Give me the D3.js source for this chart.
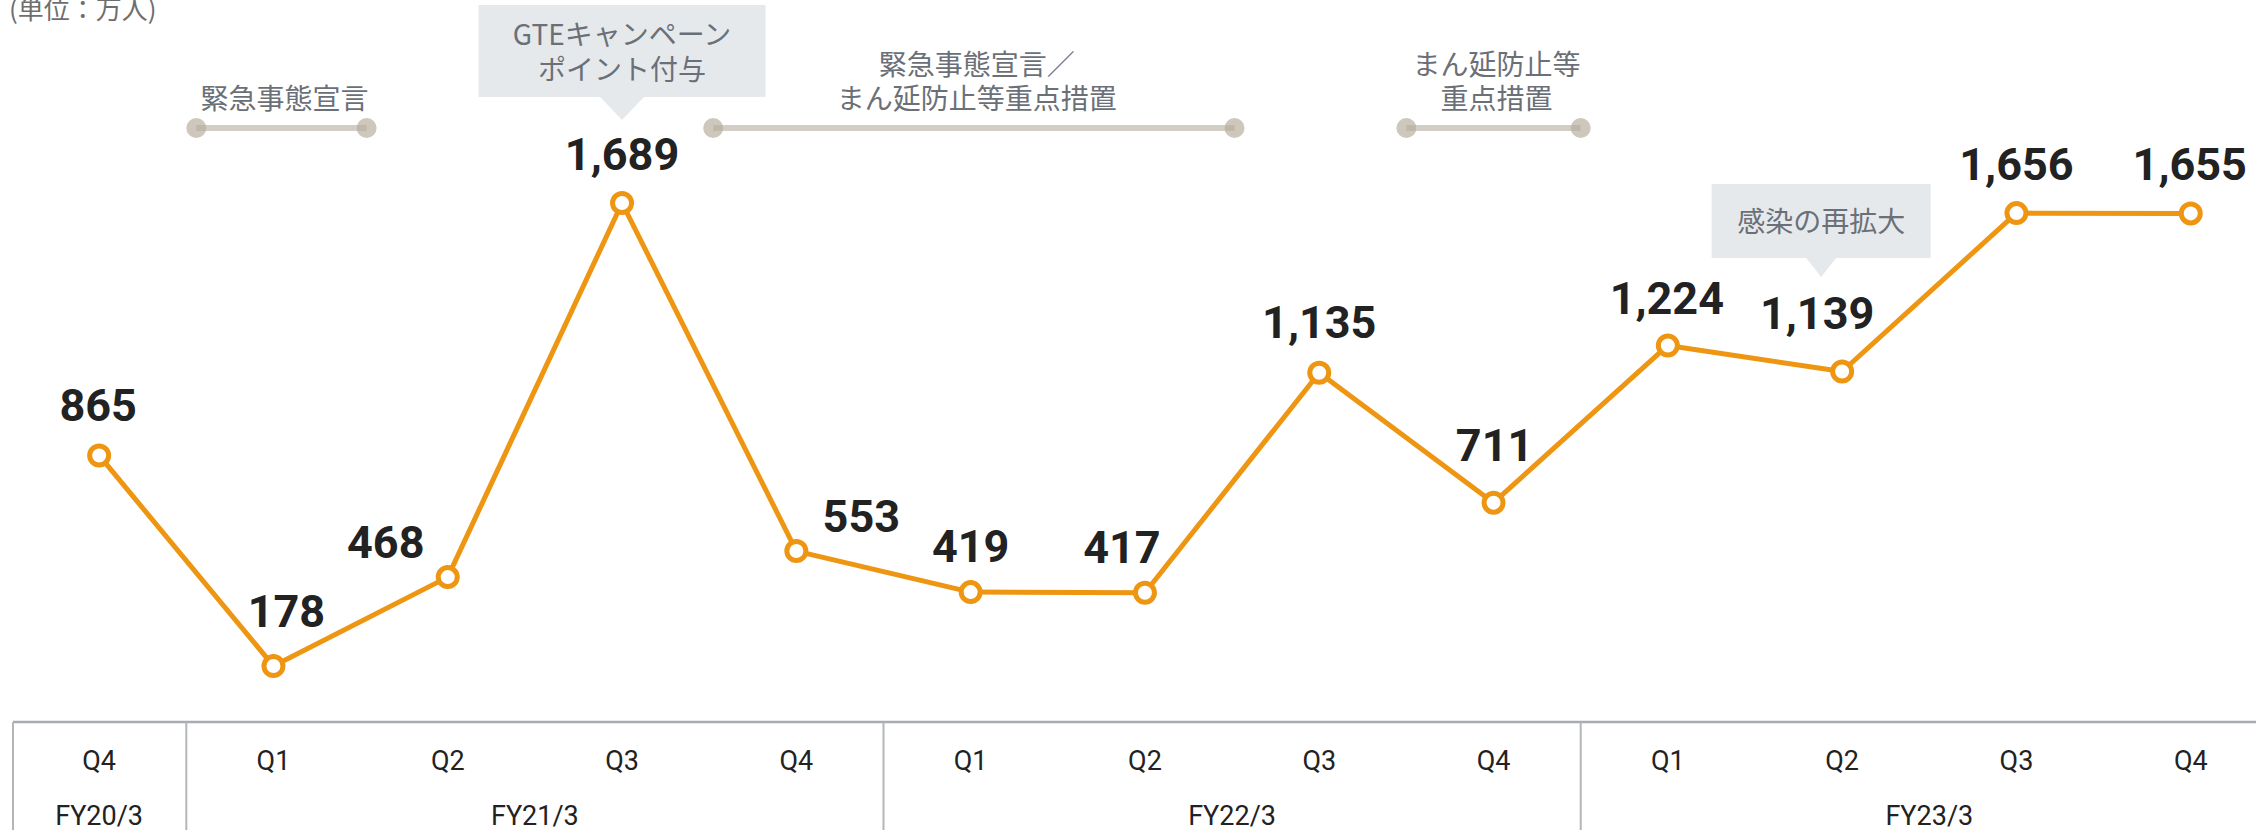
<!DOCTYPE html>
<html lang="ja">
<head>
<meta charset="utf-8">
<title>Quarterly visitors</title>
<script src="https://cdn.jsdelivr.net/npm/d3@7"></script>
<style>
  body { margin: 0; background: #fff; }
  svg { display: block; }
  text { font-family: Roboto, "Noto Sans CJK JP", sans-serif; }
  .jp { font-family: "Noto Sans CJK JP", sans-serif; }
</style>
</head>
<body>
<div id="chart"></div>
<script>
// values in 万人, one per quarter
const quarters = ["Q4", "Q1", "Q2", "Q3", "Q4", "Q1", "Q2", "Q3", "Q4", "Q1", "Q2", "Q3", "Q4"];
const fiscalYears = ["FY20/3", "FY21/3", "FY21/3", "FY21/3", "FY21/3", "FY22/3", "FY22/3", "FY22/3", "FY22/3",
    "FY23/3", "FY23/3", "FY23/3", "FY23/3"];
const visitors = [865, 178, 468, 1689, 553, 419, 417, 1135, 711, 1224, 1139, 1656, 1655];
const unitLabel = "(単位：万人)";

// restriction periods, first / last quarter index
const periodLabels = [["緊急事態宣言"], ["緊急事態宣言／", "まん延防止等重点措置"], ["まん延防止等", "重点措置"]];
const periodStart = [1, 4, 8];
const periodEnd = [1, 6, 8];

// callouts pointing at a quarter
const calloutLabels = [["GTEキャンペーン", "ポイント付与"], ["感染の再拡大"]];
const calloutAt = [3, 10];

// hand placement of value labels: [dx, baseline offset from point]
const labelNudge = [[-1, -34], [13, -39], [-62, -19], [0, -33], [65, -19], [0, -30], [-23, -30],
    [0, -35], [1, -42], [-1, -31], [-25, -43], [0, -33], [-1, -33]];
const periodShift = [10, 4, 0];
const calloutBox = [
    { dx: 0, top: 5, w: 287, h: 92, tipW: 44, tipH: 23 },
    { dx: -21, top: 184, w: 219, h: 74, tipW: 30, tipH: 19 }
];

const width = 2256, height = 830;
const orange = "#ee9511";
const annoText = "#6b7078";

const svg = d3.select("#chart").append("svg")
    .attr("width", width)
    .attr("height", height);

const idx = d3.range(visitors.length);

const x = d3.scaleBand()
    .domain(idx)
    .range([12, 12 + 174.3 * idx.length]);
const cx = (i) => x(i) + x.bandwidth() / 2;

const y = d3.scaleLinear()
    .domain([0, 1689])
    .range([720.5, 203]);

// unit label
svg.append("text")
    .attr("class", "jp")
    .attr("x", 9)
    .attr("y", 19)
    .attr("font-size", 26)
    .attr("fill", "#6e6e6e")
    .text(unitLabel);

// restriction periods
const periods = svg.append("g");
periodLabels.forEach((lines, k) => {
    const x1 = x(periodStart[k]) + periodShift[k];
    const x2 = x(periodEnd[k]) + x.bandwidth() + periodShift[k] * 0.6;
    const g = periods.append("g");
    g.selectAll("circle")
        .data([x1, x2])
        .enter()
        .append("circle")
        .attr("cx", (d) => d)
        .attr("cy", 128)
        .attr("r", 10)
        .attr("fill", "#cdc7bc");
    g.append("line")
        .attr("x1", x1).attr("x2", x2)
        .attr("y1", 128).attr("y2", 128)
        .attr("stroke", "rgb(182,173,158)")
        .attr("stroke-opacity", 0.6)
        .attr("stroke-width", 6);
    g.selectAll("text")
        .data(lines)
        .enter()
        .append("text")
        .attr("class", "jp")
        .attr("x", (x1 + x2) / 2 + 3)
        .attr("y", (d, i) => 109 - (lines.length - 1 - i) * 34)
        .attr("text-anchor", "middle")
        .attr("font-size", 28)
        .attr("fill", annoText)
        .text((d) => d);
});

// callouts
calloutLabels.forEach((lines, k) => {
    const b = calloutBox[k];
    const mx = cx(calloutAt[k]) + b.dx;
    const g = svg.append("g");
    g.append("path")
        .attr("d", d3.line()([
            [mx - b.w / 2, b.top], [mx + b.w / 2, b.top], [mx + b.w / 2, b.top + b.h],
            [mx + b.tipW / 2, b.top + b.h], [mx, b.top + b.h + b.tipH], [mx - b.tipW / 2, b.top + b.h],
            [mx - b.w / 2, b.top + b.h]
        ]) + "Z")
        .attr("fill", "#e6e9ec");
    g.selectAll("text")
        .data(lines)
        .enter()
        .append("text")
        .attr("class", "jp")
        .attr("x", mx)
        .attr("y", (d, i) => b.top + b.h / 2 + (i - (lines.length - 1) / 2) * 35 + 11)
        .attr("text-anchor", "middle")
        .attr("font-size", 28)
        .attr("fill", annoText)
        .text((d) => d);
});

// table under the chart
const table = svg.append("g");
table.append("line")
    .attr("x1", 13).attr("x2", width)
    .attr("y1", 722).attr("y2", 722)
    .attr("stroke", "#a7aaae")
    .attr("stroke-width", 2.5);

const groups = d3.groups(idx, (i) => fiscalYears[i]);
const bounds = [13].concat(groups.slice(1).map((g) => x(g[1][0])));
table.selectAll("line.sep")
    .data(bounds)
    .enter()
    .append("line")
    .attr("class", "sep")
    .attr("x1", (d) => d).attr("x2", (d) => d)
    .attr("y1", 722).attr("y2", height)
    .attr("stroke", "#b3b5b8")
    .attr("stroke-width", 2);

table.selectAll("text.q")
    .data(idx)
    .enter()
    .append("text")
    .attr("class", "q")
    .attr("x", (i) => cx(i))
    .attr("y", 770)
    .attr("text-anchor", "middle")
    .attr("font-size", 27)
    .attr("fill", "#222")
    .text((i) => quarters[i]);

table.selectAll("text.fy")
    .data(groups)
    .enter()
    .append("text")
    .attr("class", "fy")
    .attr("x", (g) => (x(g[1][0]) + x(g[1][g[1].length - 1]) + x.bandwidth()) / 2)
    .attr("y", 825)
    .attr("text-anchor", "middle")
    .attr("font-size", 27)
    .attr("fill", "#222")
    .text((g) => g[0]);

// the series
svg.append("path")
    .datum(idx)
    .attr("fill", "none")
    .attr("stroke", orange)
    .attr("stroke-width", 5)
    .attr("stroke-linejoin", "round")
    .attr("d", d3.line().x((i) => cx(i)).y((i) => y(visitors[i])));

svg.selectAll("circle.pt")
    .data(idx)
    .enter()
    .append("circle")
    .attr("class", "pt")
    .attr("cx", (i) => cx(i))
    .attr("cy", (i) => y(visitors[i]))
    .attr("r", 9.5)
    .attr("fill", "#fff")
    .attr("stroke", orange)
    .attr("stroke-width", 5);

svg.selectAll("text.val")
    .data(idx)
    .enter()
    .append("text")
    .attr("class", "val")
    .attr("x", (i) => cx(i) + labelNudge[i][0])
    .attr("y", (i) => y(visitors[i]) + labelNudge[i][1])
    .attr("text-anchor", "middle")
    .attr("font-size", 45)
    .attr("font-weight", 700)
    .attr("fill", "#222")
    .text((i) => d3.format(",")(visitors[i]));
</script>
</body>
</html>
